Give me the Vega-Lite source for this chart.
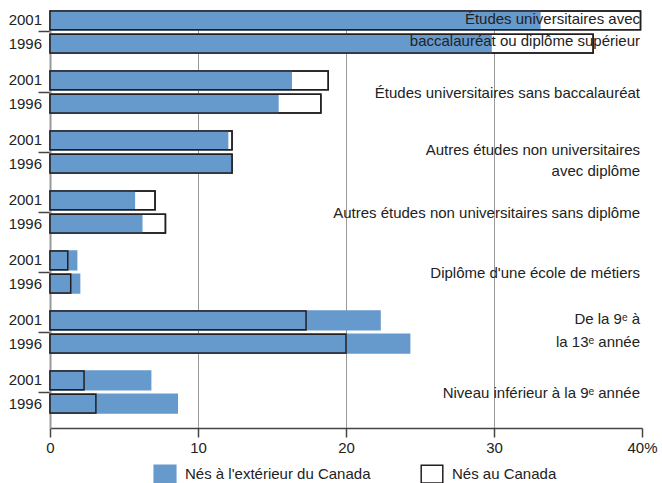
{
  "$schema": "https://vega.github.io/schema/vega-lite/v6.json",
  "width": 592,
  "height": 418,
  "autosize": {"type": "none"},
  "padding": {"left": 50, "top": 10, "right": 20, "bottom": 55},
  "background": "white",
  "config": {"view": {"stroke": null}, "font": "Arial"},
  "datasets": {
    "bars": [
      {"cat": "Études universitaires avec baccalauréat ou diplôme supérieur", "year": "2001", "born": "Nés au Canada", "value": 39.9},
      {"cat": "Études universitaires avec baccalauréat ou diplôme supérieur", "year": "1996", "born": "Nés au Canada", "value": 36.7},
      {"cat": "Études universitaires sans baccalauréat", "year": "2001", "born": "Nés au Canada", "value": 18.8},
      {"cat": "Études universitaires sans baccalauréat", "year": "1996", "born": "Nés au Canada", "value": 18.3},
      {"cat": "Autres études non universitaires avec diplôme", "year": "2001", "born": "Nés au Canada", "value": 12.3},
      {"cat": "Autres études non universitaires avec diplôme", "year": "1996", "born": "Nés au Canada", "value": 12.3},
      {"cat": "Autres études non universitaires sans diplôme", "year": "2001", "born": "Nés au Canada", "value": 7.1},
      {"cat": "Autres études non universitaires sans diplôme", "year": "1996", "born": "Nés au Canada", "value": 7.8},
      {"cat": "Diplôme d'une école de métiers", "year": "2001", "born": "Nés au Canada", "value": 1.2},
      {"cat": "Diplôme d'une école de métiers", "year": "1996", "born": "Nés au Canada", "value": 1.4},
      {"cat": "De la 9ᵉ à la 13ᵉ année", "year": "2001", "born": "Nés au Canada", "value": 17.3},
      {"cat": "De la 9ᵉ à la 13ᵉ année", "year": "1996", "born": "Nés au Canada", "value": 20.0},
      {"cat": "Niveau inférieur à la 9ᵉ année", "year": "2001", "born": "Nés au Canada", "value": 2.3},
      {"cat": "Niveau inférieur à la 9ᵉ année", "year": "1996", "born": "Nés au Canada", "value": 3.1},
      {"cat": "Études universitaires avec baccalauréat ou diplôme supérieur", "year": "2001", "born": "Nés à l'extérieur du Canada", "value": 33.1},
      {"cat": "Études universitaires avec baccalauréat ou diplôme supérieur", "year": "1996", "born": "Nés à l'extérieur du Canada", "value": 29.8},
      {"cat": "Études universitaires sans baccalauréat", "year": "2001", "born": "Nés à l'extérieur du Canada", "value": 16.3},
      {"cat": "Études universitaires sans baccalauréat", "year": "1996", "born": "Nés à l'extérieur du Canada", "value": 15.4},
      {"cat": "Autres études non universitaires avec diplôme", "year": "2001", "born": "Nés à l'extérieur du Canada", "value": 12.0},
      {"cat": "Autres études non universitaires avec diplôme", "year": "1996", "born": "Nés à l'extérieur du Canada", "value": 12.2},
      {"cat": "Autres études non universitaires sans diplôme", "year": "2001", "born": "Nés à l'extérieur du Canada", "value": 5.7},
      {"cat": "Autres études non universitaires sans diplôme", "year": "1996", "born": "Nés à l'extérieur du Canada", "value": 6.2},
      {"cat": "Diplôme d'une école de métiers", "year": "2001", "born": "Nés à l'extérieur du Canada", "value": 1.8},
      {"cat": "Diplôme d'une école de métiers", "year": "1996", "born": "Nés à l'extérieur du Canada", "value": 2.0},
      {"cat": "De la 9ᵉ à la 13ᵉ année", "year": "2001", "born": "Nés à l'extérieur du Canada", "value": 22.3},
      {"cat": "De la 9ᵉ à la 13ᵉ année", "year": "1996", "born": "Nés à l'extérieur du Canada", "value": 24.3},
      {"cat": "Niveau inférieur à la 9ᵉ année", "year": "2001", "born": "Nés à l'extérieur du Canada", "value": 6.8},
      {"cat": "Niveau inférieur à la 9ᵉ année", "year": "1996", "born": "Nés à l'extérieur du Canada", "value": 8.6}
    ],
    "labels": [
      {"cat": "Études universitaires avec baccalauréat ou diplôme supérieur", "label": "Études universitaires avec\nbaccalauréat ou diplôme supérieur", "lines": 2},
      {"cat": "Études universitaires sans baccalauréat", "label": "Études universitaires sans baccalauréat", "lines": 1},
      {"cat": "Autres études non universitaires avec diplôme", "label": "Autres études non universitaires\navec diplôme", "lines": 2},
      {"cat": "Autres études non universitaires sans diplôme", "label": "Autres études non universitaires sans diplôme", "lines": 1},
      {"cat": "Diplôme d'une école de métiers", "label": "Diplôme d'une école de métiers", "lines": 1},
      {"cat": "De la 9ᵉ à la 13ᵉ année", "label": "De la 9ᵉ à\nla 13ᵉ année", "lines": 2},
      {"cat": "Niveau inférieur à la 9ᵉ année", "label": "Niveau inférieur à la 9ᵉ année", "lines": 1}
    ]
  },
  "layer": [
    {
      "data": {"name": "bars"},
      "mark": {"type": "bar", "strokeWidth": 1.5},
      "encoding": {
        "y": {
          "field": "cat", "type": "nominal",
          "scale": {
            "domain": [
              "Études universitaires avec baccalauréat ou diplôme supérieur",
              "Études universitaires sans baccalauréat",
              "Autres études non universitaires avec diplôme",
              "Autres études non universitaires sans diplôme",
              "Diplôme d'une école de métiers",
              "De la 9ᵉ à la 13ᵉ année",
              "Niveau inférieur à la 9ᵉ année"
            ],
            "paddingInner": 0.3, "paddingOuter": 0.1333, "align": 0.0625
          },
          "axis": {
            "title": null, "labels": false, "grid": false,
            "domain": true, "domainColor": "#999999", "domainWidth": 2,
            "ticks": true, "tickSize": 12, "tickColor": "#444444", "tickWidth": 1.5
          }
        },
        "yOffset": {
          "field": "year", "type": "nominal",
          "scale": {"domain": ["2001", "1996"], "paddingInner": 0.2, "paddingOuter": 0}
        },
        "x": {
          "field": "value", "type": "quantitative", "stack": null,
          "scale": {"domain": [0, 40], "nice": false},
          "axis": {
            "title": null, "values": [0, 10, 20, 30, 40],
            "labelExpr": "datum.value == 40 ? '40%' : datum.label",
            "labelFlush": false,
            "grid": true,
            "gridColor": {"condition": {"test": "datum.value == 0 || datum.value == 40", "value": "transparent"}, "value": "#999999"},
            "gridWidth": 1,
            "domainColor": "#444444", "domainWidth": 1.5,
            "tickColor": "#444444", "tickWidth": 1.5, "tickSize": 9,
            "labelFontSize": 15, "labelColor": "#222222", "labelPadding": 3,
            "labelFont": "Arial"
          }
        },
        "fill": {
          "field": "born", "type": "nominal",
          "scale": {"domain": ["Nés à l'extérieur du Canada", "Nés au Canada"], "range": ["#6699cc", "#ffffff"]},
          "legend": {
            "title": null, "orient": "none", "legendX": 103, "legendY": 452, "direction": "horizontal",
            "symbolType": "M-1,-0.82H1V0.82H-1Z", "symbolSize": 467, "symbolStrokeWidth": 1.5,
            "labelFontSize": 15, "labelColor": "#222222", "labelFont": "Arial", "labelLimit": 400,
            "labelOffset": 8, "columnPadding": 47, "padding": 0
          }
        },
        "stroke": {
          "field": "born", "type": "nominal",
          "scale": {"domain": ["Nés à l'extérieur du Canada", "Nés au Canada"], "range": ["#6699cc", "#231f20"]},
          "legend": {
            "title": null, "orient": "none", "legendX": 103, "legendY": 452, "direction": "horizontal",
            "symbolType": "M-1,-0.82H1V0.82H-1Z", "symbolSize": 467, "symbolStrokeWidth": 1.5,
            "labelFontSize": 15, "labelColor": "#222222", "labelFont": "Arial", "labelLimit": 400,
            "labelOffset": 8, "columnPadding": 47, "padding": 0
          }
        }
      }
    },
    {
      "data": {"name": "bars"},
      "transform": [{"filter": {"field": "born", "equal": "Nés au Canada"}}],
      "mark": {"type": "bar", "fill": null, "fillOpacity": 0, "stroke": "#231f20", "strokeWidth": 1.5},
      "encoding": {
        "y": {"field": "cat", "type": "nominal"},
        "yOffset": {"field": "year", "type": "nominal"},
        "x": {"field": "value", "type": "quantitative", "stack": null}
      }
    },
    {
      "data": {"name": "bars"},
      "transform": [{"filter": {"field": "born", "equal": "Nés au Canada"}}],
      "mark": {"type": "text", "align": "right", "baseline": "middle", "dx": -8, "fontSize": 15, "color": "#222222", "font": "Arial"},
      "encoding": {
        "y": {"field": "cat", "type": "nominal"},
        "yOffset": {"field": "year", "type": "nominal"},
        "x": {"datum": 0, "type": "quantitative"},
        "text": {"field": "year"}
      }
    },
    {
      "data": {"name": "labels"},
      "transform": [{"filter": {"field": "lines", "equal": 1}}],
      "mark": {"type": "text", "align": "right", "baseline": "middle", "dx": -2, "dy": 1, "fontSize": 15, "color": "#222222", "font": "Arial"},
      "encoding": {
        "y": {"field": "cat", "type": "nominal"},
        "x": {"datum": 40, "type": "quantitative"},
        "text": {"field": "label"}
      }
    },
    {
      "data": {"name": "labels"},
      "transform": [
        {"filter": {"field": "lines", "equal": 2}},
        {"filter": {"not": {"field": "cat", "equal": "Autres études non universitaires avec diplôme"}}}
      ],
      "mark": {"type": "text", "align": "right", "baseline": "middle", "dx": -2, "dy": -13, "lineBreak": "\n", "lineHeight": 22.5, "fontSize": 15, "color": "#222222", "font": "Arial"},
      "encoding": {
        "y": {"field": "cat", "type": "nominal"},
        "x": {"datum": 40, "type": "quantitative"},
        "text": {"field": "label"}
      }
    },
    {
      "data": {"name": "labels"},
      "transform": [{"filter": {"field": "cat", "equal": "Autres études non universitaires avec diplôme"}}],
      "mark": {"type": "text", "align": "right", "baseline": "middle", "dx": -2, "dy": -2, "lineBreak": "\n", "lineHeight": 21, "fontSize": 15, "color": "#222222", "font": "Arial"},
      "encoding": {
        "y": {"field": "cat", "type": "nominal"},
        "x": {"datum": 40, "type": "quantitative"},
        "text": {"field": "label"}
      }
    }
  ]
}
